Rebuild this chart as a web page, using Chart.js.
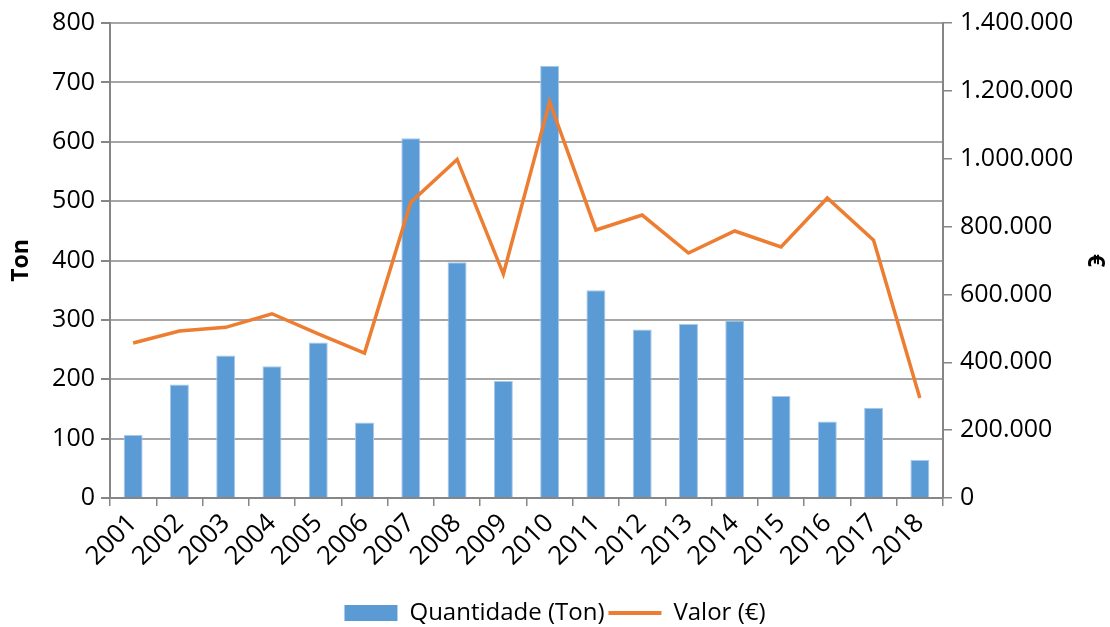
<!DOCTYPE html>
<html>
<head>
<meta charset="utf-8">
<script src="https://cdn.jsdelivr.net/npm/chart.js@4"></script>
<style>
  html, body { margin: 0; padding: 0; background: #fff; }
  #wrap { width: 1110px; height: 627px; position: relative; }
</style>
</head>
<body>
<div id="wrap"><canvas id="chart"></canvas></div>
<script>
// ===============================
// DATA
// ===============================
const anos = ["2001","2002","2003","2004","2005","2006","2007","2008","2009",
              "2010","2011","2012","2013","2014","2015","2016","2017","2018"];

const quantidadeTon = [106, 191, 240, 222, 262, 127, 606, 397, 197,
                       728, 350, 284, 293, 299, 172, 129, 152, 64];

const valorEuro = [457000, 492000, 503000, 543000, 484000, 427000, 872000, 998000, 660000,
                   1168000, 790000, 834000, 722000, 787000, 740000, 884000, 760000, 295000];

// ===============================
// HELPERS
// ===============================
function fmtPonto(n) {
  return String(Math.round(n)).replace(/\B(?=(\d{3})+(?!\d))/g, ".");
}

const FONT = "'Open Sans', 'Liberation Sans', sans-serif";
const FS = 25;
const GRID = "#a6a6a6";
const AXIS = "#868686";

// ===============================
// CHART
// ===============================
new Chart(document.getElementById("chart"), {
  data: {
    labels: anos,
    datasets: [
      {
        type: "line",
        label: "Valor (€)",
        data: valorEuro,
        yAxisID: "yValor",
        borderColor: "#ED7D31",
        backgroundColor: "#ED7D31",
        borderWidth: 3.5,
        pointRadius: 0,
        tension: 0,
        order: 1
      },
      {
        type: "bar",
        label: "Quantidade (Ton)",
        data: quantidadeTon,
        yAxisID: "yTon",
        backgroundColor: "#5B9BD5",
        borderColor: "#A9C8EA",
        borderWidth: 1,
        categoryPercentage: 1,
        barPercentage: 0.41,
        order: 2
      }
    ]
  },
  options: {
    responsive: true,
    maintainAspectRatio: false,
    animation: false,
    layout: { padding: { left: 0, right: 0, top: 8, bottom: -8 } },
    plugins: {
      tooltip: { enabled: false },
      legend: {
        position: "bottom",
        reverse: true,
        labels: {
          font: { family: FONT, size: FS - 1 },
          color: "#000",
          usePointStyle: true,
          pointStyleWidth: 53,
          boxHeight: 16,
          padding: 4,
          generateLabels(chart) {
            const items = Chart.defaults.plugins.legend.labels.generateLabels(chart);
            items.forEach(it => {
              const ds = chart.data.datasets[it.datasetIndex];
              if (ds.type === "bar") {
                it.pointStyle = "rect";
                it.lineWidth = 0;
                it.strokeStyle = ds.backgroundColor;
              } else {
                it.pointStyle = "line";
                it.lineWidth = 4;
              }
            });
            return items;
          }
        }
      }
    },
    scales: {
      x: {
        offset: true,
        grid: {
          offset: true,
          drawOnChartArea: false,
          drawTicks: true,
          tickLength: 8,
          color: AXIS,
          lineWidth: 1.5
        },
        border: { color: AXIS, width: 2 },
        ticks: {
          autoSkip: false,
          font: { family: FONT, size: FS + 1 },
          color: "#000",
          minRotation: 45,
          maxRotation: 45,
          padding: 2
        },
        afterFit(scale) { scale.height = 99; }
      },
      yTon: {
        position: "left",
        min: 0,
        max: 800,
        ticks: {
          stepSize: 100,
          font: { family: FONT, size: FS },
          color: "#000",
          padding: 6
        },
        grid: { color: GRID, lineWidth: 2, tickLength: 9, tickColor: AXIS },
        border: { color: AXIS, width: 2 },
        title: {
          display: true,
          text: "Ton",
          font: { family: FONT, size: FS - 2, weight: "bold" },
          color: "#000",
          padding: { top: 8, bottom: 0 }
        },
        afterFit(scale) { scale.width = 110; }
      },
      yValor: {
        position: "right",
        min: 0,
        max: 1400000,
        ticks: {
          stepSize: 200000,
          font: { family: FONT, size: FS },
          color: "#000",
          padding: 8,
          callback: v => fmtPonto(v)
        },
        grid: { drawOnChartArea: false, tickLength: 9, color: AXIS, lineWidth: 1.5 },
        border: { color: AXIS, width: 2 },
        title: {
          display: true,
          text: "€",
          font: { family: FONT, size: FS - 2, weight: "bold" },
          color: "#000",
          padding: { top: 2, bottom: 0 }
        },
        afterFit(scale) { scale.width = 167; }
      }
    }
  }
});
</script>
</body>
</html>
